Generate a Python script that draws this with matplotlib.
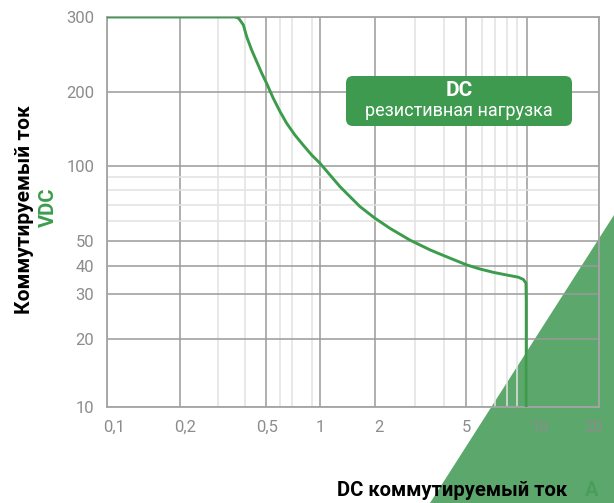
import matplotlib
matplotlib.use("Agg")
import matplotlib.pyplot as plt
import numpy as np
from matplotlib.patches import Polygon, FancyBboxPatch
from matplotlib.transforms import ScaledTranslation

# data
current_a = [0.1, 0.359, 0.372, 0.379, 0.393, 0.407, 0.429, 0.453, 0.478, 0.504,
             0.549, 0.599, 0.652, 0.725, 0.807, 0.899, 1.0, 1.136, 1.29, 1.465,
             1.663, 2.01, 2.336, 2.854, 3.487, 3.854, 4.40, 5.04, 5.87, 6.84,
             7.97, 9.10, 9.64, 9.94, 9.97, 9.97]
voltage_v = [300, 300, 298.4, 295, 287.3, 269.7, 251, 235.6, 221.3, 209.6,
             188.5, 166.3, 149.2, 133.6, 121.5, 110.8, 102.6, 92, 82.6, 75.3,
             68.7, 61.7, 56.2, 50.4, 46.2, 44.5, 42.4, 40.4, 38.8, 37.5,
             36.5, 35.7, 34.9, 33.6, 28.5, 10]

x_ticks = [0.1, 0.2, 0.5, 1, 2, 5, 10, 20]
x_tick_labels = ["0,1", "0,2", "0,5", "1", "2", "5", "10", "20"]
x_minor = [0.3, 0.4, 0.6, 0.7, 0.9, 3, 4, 6, 7, 8, 9]
y_ticks = [10, 20, 30, 40, 50, 100, 200, 300]
y_tick_labels = ["10", "20", "30", "40", "50", "100", "200", "300"]
y_minor = [60, 70, 80, 90]

# the drawing's axes are only roughly logarithmic: piecewise log scale
# through the pixel position of each major tick
x_anchor_px = [107, 180, 266, 320, 374.5, 466, 526.5, 599]
y_anchor_px = [407, 339, 294.3, 266, 241, 166, 92, 17]

GREEN = "#3c9c4c"
GREY = "#8c8c8c"


def piecewise_log(vals, pos):
    lv = np.log10(np.asarray(vals, float))
    p = np.asarray(pos, float)
    s0 = (p[1] - p[0]) / (lv[1] - lv[0])
    s1 = (p[-1] - p[-2]) / (lv[-1] - lv[-2])

    def fwd(v):
        v = np.asarray(v, float)
        lg = np.log10(np.where(v > 0, v, 1e-30))
        out = np.interp(lg, lv, p)
        out = np.where(lg < lv[0], p[0] + (lg - lv[0]) * s0, out)
        out = np.where(lg > lv[-1], p[-1] + (lg - lv[-1]) * s1, out)
        return out

    def inv(q):
        q = np.asarray(q, float)
        lg = np.interp(q, p, lv)
        lg = np.where(q < p[0], lv[0] + (q - p[0]) / s0, lg)
        lg = np.where(q > p[-1], lv[-1] + (q - p[-1]) / s1, lg)
        return 10 ** lg

    return fwd, inv


plt.rcParams["font.family"] = ["Roboto", "DejaVu Sans"]

fig = plt.figure(figsize=(6.14, 5.03), dpi=100)

# green corner triangle behind everything
tri = Polygon([(1, 1 - 215 / 503), (430 / 614, 0), (1, 0)], closed=True,
              transform=fig.transFigure, facecolor="#5ca86c", edgecolor="none",
              zorder=-5)
fig.add_artist(tri)

ax = fig.add_axes([107 / 614, 1 - 407 / 503, (599 - 107) / 614, (407 - 17) / 503])
ax.patch.set_visible(False)

ax.set_xscale("function", functions=piecewise_log(x_ticks, x_anchor_px))
ax.set_yscale("function", functions=piecewise_log(y_ticks, [407 - p for p in y_anchor_px]))
ax.set_xlim(0.1, 20)
ax.set_ylim(10, 300)

ax.set_xticks(x_ticks)
ax.set_xticklabels(x_tick_labels)
ax.set_xticks(x_minor, minor=True)
ax.set_yticks(y_ticks)
ax.set_yticklabels(y_tick_labels)
ax.set_yticks(y_minor, minor=True)

ax.grid(which="minor", color="#e2e2e2", lw=1.1)
ax.grid(which="major", color="#9a9a9a", lw=1.1)
ax.set_axisbelow(True)
ax.tick_params(which="both", length=0, labelcolor=GREY, labelsize=12)
ax.tick_params(axis="x", pad=9)
ax.tick_params(axis="y", pad=9)
for s in ax.spines.values():
    s.set_color("#a4a4a4")
    s.set_linewidth(1.3)

# small hand placed shifts of the x tick labels
shifts = [7, 5, 1, 0, 4, 0, 13, -5]
for lab, dx in zip(ax.get_xticklabels(), shifts):
    lab.set_transform(lab.get_transform() + ScaledTranslation(dx / 100, 0, fig.dpi_scale_trans))

ax.plot(current_a, voltage_v, color=GREEN, lw=2.1, solid_joinstyle="round",
        solid_capstyle="butt", zorder=3)

# label box
box = FancyBboxPatch((346 / 100, (503 - 126) / 100), 226 / 100, 50 / 100,
                     boxstyle="round,pad=0,rounding_size=0.07",
                     transform=fig.dpi_scale_trans, facecolor="#3d9a4e",
                     edgecolor="none", zorder=5)
fig.add_artist(box)
fig.text(459 / 614, 1 - 90 / 503, "DC", color="white", fontsize=15,
         fontweight="bold", ha="center", va="center", zorder=6)
fig.text(459 / 614, 1 - 111 / 503, "резистивная нагрузка", color="white",
         fontsize=13, ha="center", va="center", zorder=6)

# axis titles
fig.text(25 / 614, 1 - 210 / 503, "Коммутируемый ток", rotation=90, fontsize=15,
         fontweight="bold", color="black", ha="center", va="center")
fig.text(48 / 614, 1 - 207 / 503, "VDC", rotation=90, fontsize=14.5,
         fontweight="bold", color=GREEN, ha="center", va="center")
fig.text(567 / 614, 1 - 490 / 503, "DC коммутируемый ток", fontsize=14.5,
         fontweight="bold", color="black", ha="right", va="center")
fig.text(592 / 614, 1 - 490 / 503, "A", fontsize=14.5,
         fontweight="bold", color="#4a9e5a", ha="center", va="center")

fig.savefig("out.png", dpi=100)
